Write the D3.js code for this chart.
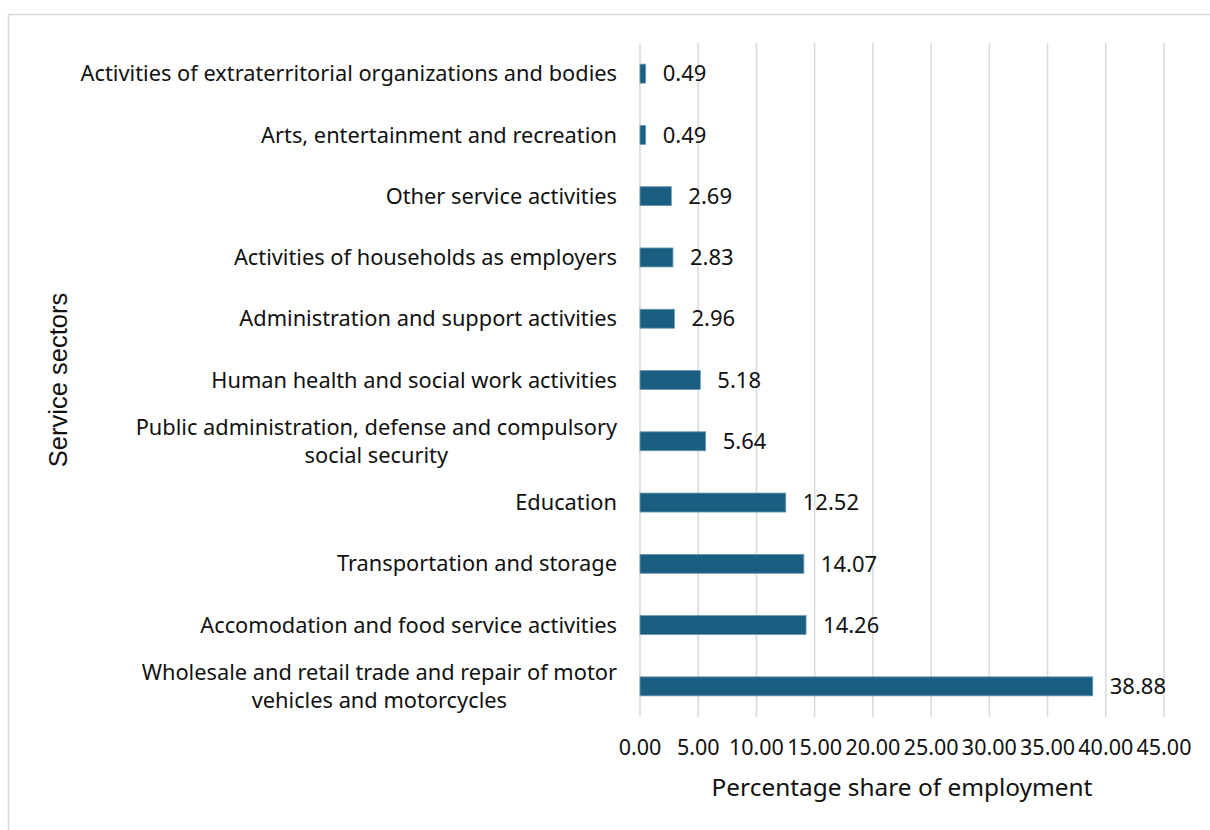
<!DOCTYPE html>
<html>
<head>
<meta charset="utf-8">
<script src="https://cdn.jsdelivr.net/npm/d3@7"></script>
<style>
  html, body { margin: 0; padding: 0; background: #ffffff; }
  svg { display: block; }
</style>
</head>
<body>
<div id="chart"></div>
<script>
// Service sectors, listed top to bottom
const categories = [
  "Activities of extraterritorial organizations and bodies",
  "Arts, entertainment and recreation",
  "Other service activities",
  "Activities of households as employers",
  "Administration and support activities",
  "Human health and social work activities",
  "Public administration, defense and compulsory|social security",
  "Education",
  "Transportation and storage",
  "Accomodation and food service activities",
  "Wholesale and retail trade and repair of motor|vehicles and motorcycles"
];
// Percentage share of employment
const shares = [0.49, 0.49, 2.69, 2.83, 2.96, 5.18, 5.64, 12.52, 14.07, 14.26, 38.88];
const xTicks = [0, 5, 10, 15, 20, 25, 30, 35, 40, 45];
const xTitle = "Percentage share of employment";
const yTitle = "Service sectors";

const W = 1210, H = 830;
const margin = { top: 43, right: 46, bottom: 113, left: 640 };
const font = "'Noto Sans', sans-serif";
const ink = "#111111";

const svg = d3.select("#chart").append("svg")
  .attr("width", W).attr("height", H);

// outer frame
svg.append("rect")
  .attr("x", 8.5).attr("y", 14.5)
  .attr("width", W).attr("height", H)
  .attr("fill", "none").attr("stroke", "#d9d9d9").attr("stroke-width", 1.5);

const x = d3.scaleLinear().domain([0, 45]).range([margin.left, W - margin.right]);
const y = d3.scaleBand().domain(categories).range([margin.top, H - margin.bottom]).paddingInner(0.69).paddingOuter(0.345);

// vertical gridlines
svg.append("g").selectAll("line").data(xTicks).join("line")
  .attr("x1", d => x(d)).attr("x2", d => x(d))
  .attr("y1", margin.top).attr("y2", H - margin.bottom)
  .attr("stroke", "#d9d9d9").attr("stroke-width", 1.5);

// x tick labels
svg.append("g").selectAll("text").data(xTicks).join("text")
  .attr("x", d => x(d)).attr("y", 747)
  .attr("dy", "0.35em")
  .attr("text-anchor", "middle")
  .attr("font-family", font).attr("font-size", 21.5).attr("fill", ink)
  .text(d => d.toFixed(2));

// bars
svg.append("g").selectAll("rect").data(shares).join("rect")
  .attr("x", x(0))
  .attr("y", (d, i) => y(categories[i]))
  .attr("width", d => x(d) - x(0))
  .attr("height", y.bandwidth())
  .attr("fill", "#1a5f82")
  .attr("stroke", "#6c9bb3").attr("stroke-width", 0.8);

// value labels
svg.append("g").selectAll("text").data(shares).join("text")
  .attr("x", d => x(d) + 17)
  .attr("y", (d, i) => y(categories[i]) + y.bandwidth() / 2)
  .attr("dy", "0.35em")
  .attr("font-family", font).attr("font-size", 22).attr("fill", ink)
  .text(d => d.toFixed(2));

// category labels, multi-line ones centred within their block
const labelRight = 617;
const lineH = 28;
categories.forEach(c => {
  const lines = c.split("|");
  const cy = y(c) + y.bandwidth() / 2;
  const g = svg.append("g");
  const texts = lines.map((ln, k) => g.append("text")
    .attr("y", cy + (k - (lines.length - 1) / 2) * lineH)
    .attr("dy", "0.35em")
    .attr("font-family", font).attr("font-size", 21.8).attr("fill", ink)
    .attr("text-anchor", "middle")
    .text(ln));
  const widths = texts.map(t => t.node().getComputedTextLength());
  const maxW = d3.max(widths);
  texts.forEach(t => t.attr("x", labelRight - maxW / 2));
});

// axis titles
svg.append("text")
  .attr("x", x(0) + (x(45) - x(0)) / 2).attr("y", 787)
  .attr("dy", "0.35em")
  .attr("text-anchor", "middle")
  .attr("font-family", font).attr("font-size", 24.4).attr("fill", ink)
  .text(xTitle);

svg.append("text")
  .attr("transform", `translate(67,${(margin.top + H - margin.bottom) / 2}) rotate(-90)`)
  .attr("text-anchor", "middle")
  .attr("font-family", "'Liberation Sans', Arial, sans-serif").attr("font-size", 25.5).attr("fill", ink)
  .text(yTitle);
</script>
</body>
</html>
